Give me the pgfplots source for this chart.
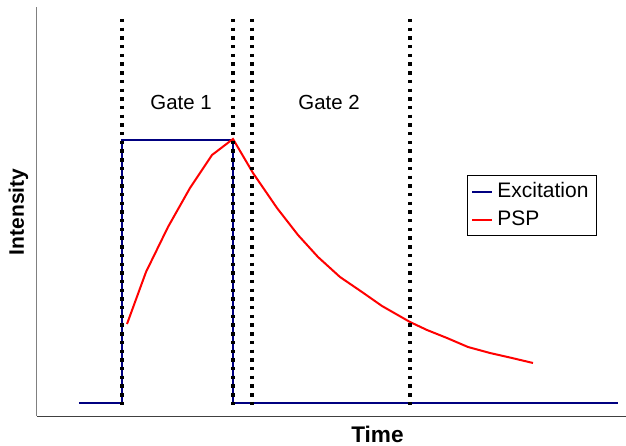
\documentclass[border=0pt]{standalone}
\usepackage{pgfplots}
\pgfplotsset{compat=1.18}
\usepackage{fontspec}
\setmainfont{Liberation Sans}
\definecolor{excblue}{RGB}{0,0,128}
\begin{document}
\begin{tikzpicture}
\begin{axis}[
  at={(0,0)}, anchor=south west,
  scale only axis,
  width=294.5pt, height=204.5pt,
  xmin=0, xmax=589, ymin=0, ymax=409,
  axis x line*=bottom, axis y line*=left,
  x axis line style={-, draw={rgb,255:red,64;green,64;blue,64}, line width=0.5pt},
  y axis line style={-, draw={rgb,255:red,128;green,128;blue,128}, line width=0.5pt},
  xtick=\empty, ytick=\empty,
  clip=false,
  xlabel={\bfseries Time},
  ylabel={\bfseries Intensity},
  xlabel style={at={(axis description cs:0.578,-0.044)}, anchor=center, font=\fontsize{11.3}{13}\selectfont},
  ylabel style={at={(axis description cs:-0.0314,0.499)}, anchor=center, font=\fontsize{10.5}{12}\selectfont},
  legend style={at={(axis description cs:0.730,0.589)}, anchor=north west, draw=black, line width=0.5pt,
    font=\fontsize{10.5}{12}\selectfont, inner xsep=2pt, inner ysep=1.5pt, row sep=1pt,
    legend image code/.code={\draw[#1] (0pt,0pt) -- (10pt,0pt);}},
  legend cell align=left,
]
\addplot[excblue, line width=1pt] coordinates {(42,13) (85,13) (85,276) (196,276) (196,13) (581,13)};
\addlegendentry{Excitation}
\addplot[red, line width=1pt] coordinates {
(90,92) (109,144) (131,189) (153,228) (175,261) (196,277)
(216,243) (240,208) (261,181) (281,159) (303,139) (325,124) (345,110)
(373,94) (390,86) (410,78) (431,69) (453,63) (475,58) (496,53)};
\addlegendentry{PSP}
\addplot[forget plot, black, line width=1.7pt, dash pattern=on 1.7pt off 2.65pt] coordinates {(85,397) (85,7)};
\addplot[forget plot, black, line width=1.7pt, dash pattern=on 1.7pt off 2.65pt] coordinates {(196,397) (196,7)};
\addplot[forget plot, black, line width=1.7pt, dash pattern=on 1.7pt off 2.65pt] coordinates {(215,397) (215,7)};
\addplot[forget plot, black, line width=1.7pt, dash pattern=on 1.7pt off 2.65pt] coordinates {(373,397) (373,7)};
\node[font=\fontsize{10.2}{12}\selectfont] at (axis cs:144,314) {Gate 1};
\node[font=\fontsize{10.2}{12}\selectfont] at (axis cs:292,314) {Gate 2};
\end{axis}
\pgfresetboundingbox
\path (-18.5pt,-14.5pt) rectangle (294.5pt,208pt);
\end{tikzpicture}
\end{document}
